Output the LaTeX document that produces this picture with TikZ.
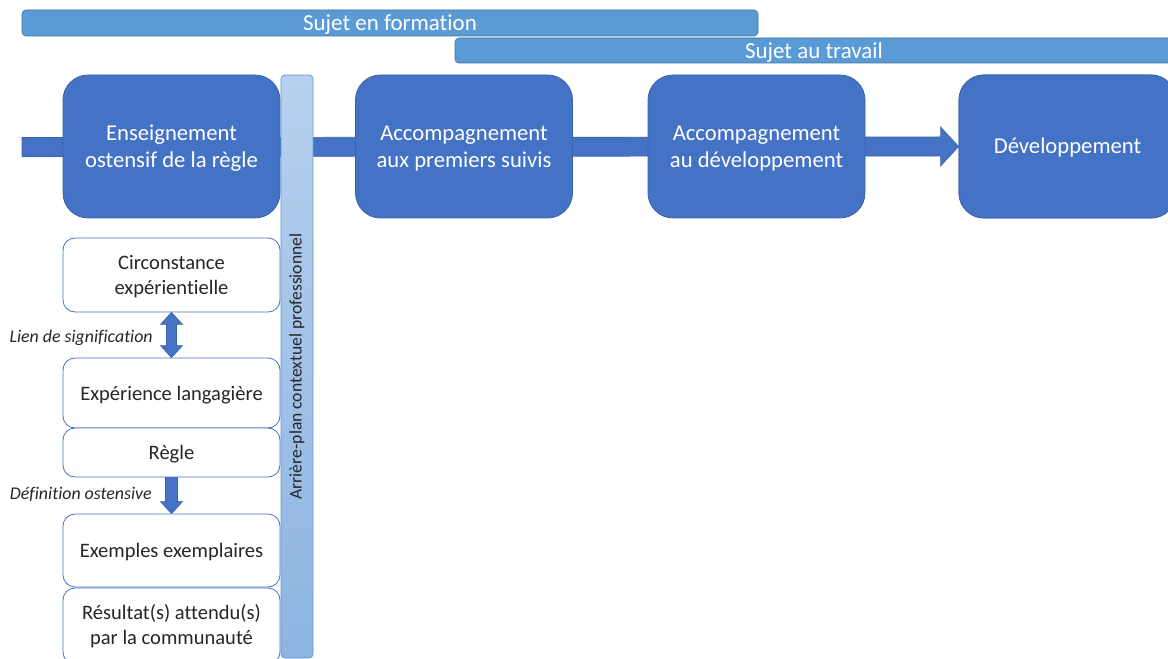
\documentclass[tikz,border=0pt]{standalone}
\usepackage{fontspec}
\setmainfont[Ligatures={NoCommon}]{Carlito}
\usetikzlibrary{calc}
\definecolor{mainblue}{HTML}{4472C4}
\definecolor{mainedge}{HTML}{3A63AD}
\definecolor{barblue}{HTML}{5B9BD5}
\definecolor{baredge}{HTML}{41719C}
\definecolor{txtgray}{HTML}{262626}
\definecolor{bgleft}{HTML}{B7D0EE}
\definecolor{bgright}{HTML}{8DB4E2}
\newcommand{\lowtext}[2][1.5pt]{\raisebox{-#1}[\height][\depth]{\begin{tabular}{@{}c@{}}#2\end{tabular}}}
\tikzset{
  mainbox/.style={draw=mainedge, line width=0.6pt, fill=mainblue, rounded corners=18.75pt,
    minimum width=162.75pt, minimum height=107.25pt, text=white,
    font=\fontsize{17}{20.5}\selectfont, inner sep=0pt},
  topbar/.style={draw=baredge, line width=0.5pt, fill=barblue, rounded corners=3pt,
    text=white, font=\fontsize{17.2}{19}\selectfont, inner sep=0pt, text depth=0pt},
  subbox/.style={draw=mainblue, line width=0.6pt, fill=white, rounded corners=9pt,
    minimum width=162.75pt, text=txtgray,
    font=\fontsize{15.4}{18.75}\selectfont, inner sep=0pt},
  sidelabel/.style={anchor=east, text=txtgray, font=\fontsize{13.4}{15}\selectfont\itshape, inner sep=0pt},
  fatarrow/.style={fill=mainblue, draw=mainedge, line width=0.5pt}
}
\begin{document}
\begin{tikzpicture}[x=0.75pt,y=-0.75pt]
\useasboundingbox (0,0) rectangle (1168,659);
\clip (0,0) rectangle (1168,659);

% top bars
\node[topbar, minimum width=552pt, minimum height=19.5pt] (form) at (390,23) {Sujet en formation};
\node[topbar, minimum width=538.5pt, minimum height=18.75pt] (trav) at (814,50.5) {Sujet au travail};

% main arrow (behind boxes)
\coordinate (start) at (22,147);
\node[mainbox] (dev) at (1067.5,146.5) {\lowtext{Développement}};
\draw[fatarrow] ($(start)+(0,-9.5)$) -- ($(dev.west)+(-18,-9.5)$) -- ($(dev.west)+(-18,-19.5)$)
  -- (dev.west) -- ($(dev.west)+(-18,19.5)$) -- ($(dev.west)+(-18,9.5)$) -- ($(start)+(0,9.5)$) -- cycle;
\node[mainbox] (dev) at (1067.5,146.5) {\lowtext{Développement}};

% main boxes
\node[mainbox] (ens) at (171.5,146.5) {\lowtext{Enseignement\\ostensif de la règle}};
\node[mainbox] (prem) at (464,146.5) {\lowtext{Accompagnement\\aux premiers suivis}};
\node[mainbox] (accdev) at (756.5,146.5) {\lowtext{Accompagnement\\au développement}};

% vertical background bar
\node[draw=barblue, line width=0.6pt, rounded corners=3pt, rotate=90,
  top color=bgleft, bottom color=bgright, minimum width=437.25pt, minimum height=24pt,
  inner sep=0pt, text=txtgray, font=\fontsize{13.2}{15}\selectfont] (bg) at (297,366.5)
  {Arrière-plan contextuel professionnel};

% sub boxes
\node[subbox, minimum height=55.5pt] (circ) at (171.5,275) {\lowtext{Circonstance\\expérientielle}};
\node[subbox, minimum height=52.5pt] (exp) at (171.5,393) {\lowtext[1.8pt]{Expérience langagière}};
\node[subbox, minimum height=36.75pt] (regle) at (171.5,452.5) {\lowtext[1.5pt]{Règle}};
\node[subbox, minimum height=54.75pt] (ex) at (171.5,550.5) {\lowtext[1.5pt]{Exemples exemplaires}};
\node[subbox, minimum height=57pt] (res) at (171.5,626) {\lowtext[0.8pt]{Résultat(s) attendu(s)\\par la communauté}};

% double arrow
\draw[fatarrow] (circ.south) -- ($(circ.south)+(11,12)$) -- ($(circ.south)+(5,12)$)
  -- ($(exp.north)+(5,-12)$) -- ($(exp.north)+(11,-12)$) -- (exp.north)
  -- ($(exp.north)+(-11,-12)$) -- ($(exp.north)+(-5,-12)$) -- ($(circ.south)+(-5,12)$)
  -- ($(circ.south)+(-11,12)$) -- cycle;
\node[sidelabel] (lien) at (153,338) {Lien de signification};

% down arrow
\draw[fatarrow] ($(regle.south)+(-6,0)$) -- ($(regle.south)+(6,0)$) -- ($(ex.north)+(6,-12)$)
  -- ($(ex.north)+(11,-12)$) -- (ex.north) -- ($(ex.north)+(-11,-12)$) -- ($(ex.north)+(-6,-12)$) -- cycle;
\node[sidelabel] (def) at (152,494.5) {Définition ostensive};
\end{tikzpicture}
\end{document}
